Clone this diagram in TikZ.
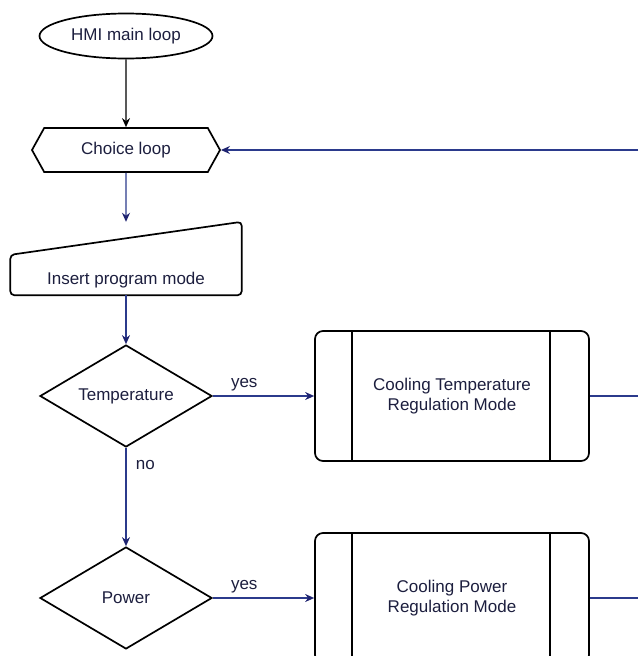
\documentclass[tikz,border=0pt]{standalone}
\usepackage{fontspec}
\setmainfont{Liberation Sans}
\usetikzlibrary{calc,shapes,arrows.meta,positioning}
\definecolor{navy}{HTML}{2B3A8C}
\definecolor{tipnavy}{HTML}{1E2370}
\definecolor{txtnavy}{HTML}{1C1E3E}

\tikzset{
  blockbase/.style={draw=black,line width=1.7pt,text=txtnavy,font=\fontsize{17}{20}\selectfont,inner sep=0pt},
  terminal/.style={blockbase,ellipse,minimum width=173pt,minimum height=45pt},
  loopbox/.style={blockbase,signal,signal to=west and east,signal pointer angle=122,minimum width=188pt,minimum height=44pt},
  decision/.style={blockbase,diamond,aspect=1.7,minimum width=172pt,minimum height=102pt},
  modebox/.style={blockbase,rectangle,rounded corners=8pt,minimum width=274pt,minimum height=130pt,align=center},
  flow/.style={navy,line width=1.2pt,->},
  lbl/.style={text=txtnavy,font=\fontsize{17}{20}\selectfont}
}

\begin{document}
\begin{tikzpicture}[x=1pt,y=-1pt,>={Stealth[length=9pt,width=8pt,color=tipnavy]}]
\useasboundingbox (0,0) rectangle (638,656);

\node[terminal] (hmi) at (126,36) {HMI main loop};
\node[loopbox] (choice) at (126,150) {Choice loop};

% manual input box
\node[minimum width=231pt,minimum height=73pt,inner sep=0pt] (ins) at (126,258.5) {};
\draw[line width=1.7pt,rounded corners=4pt] (ins.south west) -- (ins.south east) -- (ins.north east)
  -- ($(ins.north west)!0.45!(ins.south west)$) -- cycle;
\node[lbl] (instxt) at ($(ins.south)+(0,-15)$) {Insert program mode};

\node[decision] (temp) at (126,396) {Temperature};
\node[decision] (pow) at (126,598) {Power};

\node[modebox] (ctm) at (452,396) {Cooling Temperature\\Regulation Mode};
\node[modebox] (cpm) at (452,598) {Cooling Power\\Regulation Mode};
\foreach \b in {ctm,cpm} {
  \draw[line width=1.7pt] ($(\b.north west)+(38,0)$) -- ($(\b.south west)+(38,0)$);
  \draw[line width=1.7pt] ($(\b.north east)+(-40,0)$) -- ($(\b.south east)+(-40,0)$);
}

\coordinate (ret) at (638,150);
\coordinate (outt) at (638,396);
\coordinate (outp) at (638,598);

\draw[line width=1.2pt,->,>={Stealth[length=9pt,width=8pt,color=black]}] (hmi) -- (choice);
\draw[flow] (ret) -- (choice.east);
\draw[flow] (choice) -- (ins.north -| choice);
\draw[flow] (ins.south) -- (temp.north);
\draw[flow] (temp.east) -- node[lbl,above,pos=0.31,yshift=1pt] (ty) {yes} (ctm.west);
\draw[flow] (temp.south) -- node[lbl,right,pos=0.17,xshift=6pt] (tn) {no} (pow.north);
\draw[flow] (pow.east) -- node[lbl,above,pos=0.31,yshift=1pt] (py) {yes} (cpm.west);
\draw[navy,line width=1.2pt] (ctm.east) -- (outt);
\draw[navy,line width=1.2pt] (cpm.east) -- (outp);

\end{tikzpicture}
\end{document}
